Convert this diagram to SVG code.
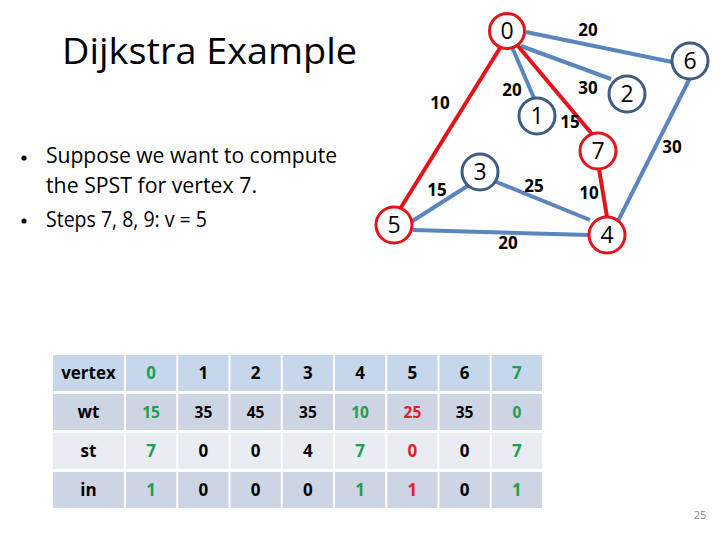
<svg xmlns="http://www.w3.org/2000/svg" width="720" height="540" viewBox="0 0 720 540">
<style>
.bg{fill:#ffffff}
.title{font-family:"Open Sans","Noto Sans","Liberation Sans",sans-serif;font-size:37px;fill:#000}
.body{font-family:"Open Sans","Noto Sans","Liberation Sans",sans-serif;font-size:21px;fill:#000}
.eb{stroke:#5b86bd;stroke-width:4;fill:none}
.er{stroke:#e3141c;stroke-width:4;fill:none}
.nb{fill:#fff;stroke:#3e5d83;stroke-width:3}
.nr{fill:#fff;stroke:#e3141c;stroke-width:3}
.nt{font-family:"Open Sans","Noto Sans","Liberation Sans",sans-serif;font-size:23px;fill:#000;text-anchor:middle}
.el{font-family:"Open Sans","Noto Sans","Liberation Sans",sans-serif;font-size:17px;font-weight:bold;fill:#000;text-anchor:middle}
.h{fill:#c6d7ec}
.r1{fill:#cdd4e3}
.r2{fill:#e8ecf3}
.tt{font-family:"Open Sans","Noto Sans","Liberation Sans",sans-serif;font-size:17px;font-weight:bold;fill:#000;text-anchor:middle}
.ts{font-size:15.5px}
.g{fill:#1f9e4f}
.r{fill:#e0202a}
.pg{font-family:"Open Sans","Liberation Sans",sans-serif;font-size:11px;fill:#888;text-anchor:middle}
</style>
<rect class="bg" x="0" y="0" width="720" height="540"/>
<text class="title" x="62" y="64" textLength="295" lengthAdjust="spacingAndGlyphs">Dijkstra Example</text>
<g id="bullets">
<circle cx="24" cy="158" r="2.6" fill="#000"/>
<text class="body" x="46" y="163" textLength="291" lengthAdjust="spacingAndGlyphs">Suppose we want to compute</text>
<text class="body" x="46" y="193" textLength="211" lengthAdjust="spacingAndGlyphs">the SPST for vertex 7.</text>
<circle cx="24" cy="221" r="2.6" fill="#000"/>
<text class="body" x="46" y="227" textLength="161" lengthAdjust="spacingAndGlyphs">Steps 7, 8, 9: v = 5</text>
</g>
<g id="connectors">
<line class="eb" x1="526" y1="32" x2="672" y2="62"/>
<line class="eb" x1="521" y1="46" x2="611" y2="79"/>
<line class="eb" x1="512" y1="47" x2="534" y2="98"/>
<line class="er" x1="518" y1="46" x2="592" y2="134"/>
<line class="er" x1="500" y1="48" x2="400" y2="209"/>
<line class="er" x1="599" y1="169" x2="607" y2="217"/>
<line class="eb" x1="690" y1="78" x2="618" y2="221"/>
<line class="eb" x1="469" y1="185" x2="411" y2="222"/>
<line class="eb" x1="494" y1="181" x2="590" y2="220"/>
<line class="eb" x1="413" y1="230" x2="589" y2="235"/>
<text class="el" x="588" y="36">20</text>
<text class="el" x="512" y="96">20</text>
<text class="el" x="588" y="94">30</text>
<text class="el" x="440" y="109">10</text>
<text class="el" x="570" y="128">15</text>
<text class="el" x="672" y="153">30</text>
<text class="el" x="437" y="196">15</text>
<text class="el" x="534" y="192">25</text>
<text class="el" x="589" y="199">10</text>
<text class="el" x="508" y="249">20</text>
</g>
<g id="node0"><circle class="nr" cx="507" cy="31" r="17.5"/><text class="nt" x="507" y="39">0</text></g>
<g id="node1"><circle class="nb" cx="537" cy="116" r="18"/><text class="nt" x="537" y="124">1</text></g>
<g id="node2"><circle class="nb" cx="627" cy="94" r="18"/><text class="nt" x="627" y="102">2</text></g>
<g id="node3"><circle class="nb" cx="480" cy="172" r="18"/><text class="nt" x="480" y="180">3</text></g>
<g id="node4"><circle class="nr" cx="607" cy="235" r="18"/><text class="nt" x="607" y="243">4</text></g>
<g id="node5"><circle class="nr" cx="394" cy="225" r="18"/><text class="nt" x="394" y="233">5</text></g>
<g id="node6"><circle class="nb" cx="690" cy="61" r="18"/><text class="nt" x="690" y="69">6</text></g>
<g id="node7"><circle class="nr" cx="598" cy="151" r="18"/><text class="nt" x="598" y="159">7</text></g>
<g id="table">
<rect class="h" x="53" y="355" width="71" height="36"/>
<rect class="r1" x="53" y="394" width="71" height="36"/>
<rect class="r2" x="53" y="433" width="71" height="36"/>
<rect class="r1" x="53" y="472" width="71" height="36"/>
<rect class="h" x="126" y="355" width="50.25" height="36"/><rect class="h" x="178.25" y="355" width="50.25" height="36"/><rect class="h" x="230.5" y="355" width="50.25" height="36"/><rect class="h" x="282.75" y="355" width="50.25" height="36"/><rect class="h" x="335" y="355" width="50.25" height="36"/><rect class="h" x="387.25" y="355" width="50.25" height="36"/><rect class="h" x="439.5" y="355" width="50.25" height="36"/><rect class="h" x="491.75" y="355" width="50.25" height="36"/>
<rect class="r1" x="126" y="394" width="50.25" height="36"/><rect class="r1" x="178.25" y="394" width="50.25" height="36"/><rect class="r1" x="230.5" y="394" width="50.25" height="36"/><rect class="r1" x="282.75" y="394" width="50.25" height="36"/><rect class="r1" x="335" y="394" width="50.25" height="36"/><rect class="r1" x="387.25" y="394" width="50.25" height="36"/><rect class="r1" x="439.5" y="394" width="50.25" height="36"/><rect class="r1" x="491.75" y="394" width="50.25" height="36"/>
<rect class="r2" x="126" y="433" width="50.25" height="36"/><rect class="r2" x="178.25" y="433" width="50.25" height="36"/><rect class="r2" x="230.5" y="433" width="50.25" height="36"/><rect class="r2" x="282.75" y="433" width="50.25" height="36"/><rect class="r2" x="335" y="433" width="50.25" height="36"/><rect class="r2" x="387.25" y="433" width="50.25" height="36"/><rect class="r2" x="439.5" y="433" width="50.25" height="36"/><rect class="r2" x="491.75" y="433" width="50.25" height="36"/>
<rect class="r1" x="126" y="472" width="50.25" height="36"/><rect class="r1" x="178.25" y="472" width="50.25" height="36"/><rect class="r1" x="230.5" y="472" width="50.25" height="36"/><rect class="r1" x="282.75" y="472" width="50.25" height="36"/><rect class="r1" x="335" y="472" width="50.25" height="36"/><rect class="r1" x="387.25" y="472" width="50.25" height="36"/><rect class="r1" x="439.5" y="472" width="50.25" height="36"/><rect class="r1" x="491.75" y="472" width="50.25" height="36"/>
<text class="tt" x="88.5" y="379">vertex</text>
<text class="tt g" x="151" y="379">0</text><text class="tt" x="203.4" y="379">1</text><text class="tt" x="255.6" y="379">2</text><text class="tt" x="307.9" y="379">3</text><text class="tt" x="360.1" y="379">4</text><text class="tt" x="412.4" y="379">5</text><text class="tt" x="464.6" y="379">6</text><text class="tt g" x="516.9" y="379">7</text>
<text class="tt" x="88.5" y="418">wt</text>
<text class="tt ts g" x="151" y="418">15</text><text class="tt ts" x="203.4" y="418">35</text><text class="tt ts" x="255.6" y="418">45</text><text class="tt ts" x="307.9" y="418">35</text><text class="tt ts g" x="360.1" y="418">10</text><text class="tt ts r" x="412.4" y="418">25</text><text class="tt ts" x="464.6" y="418">35</text><text class="tt ts g" x="516.9" y="418">0</text>
<text class="tt" x="88.5" y="457">st</text>
<text class="tt g" x="151" y="457">7</text><text class="tt" x="203.4" y="457">0</text><text class="tt" x="255.6" y="457">0</text><text class="tt" x="307.9" y="457">4</text><text class="tt g" x="360.1" y="457">7</text><text class="tt r" x="412.4" y="457">0</text><text class="tt" x="464.6" y="457">0</text><text class="tt g" x="516.9" y="457">7</text>
<text class="tt" x="88.5" y="496">in</text>
<text class="tt g" x="151" y="496">1</text><text class="tt" x="203.4" y="496">0</text><text class="tt" x="255.6" y="496">0</text><text class="tt" x="307.9" y="496">0</text><text class="tt g" x="360.1" y="496">1</text><text class="tt r" x="412.4" y="496">1</text><text class="tt" x="464.6" y="496">0</text><text class="tt g" x="516.9" y="496">1</text>
</g>
<text class="pg" x="700" y="519">25</text>
</svg>
